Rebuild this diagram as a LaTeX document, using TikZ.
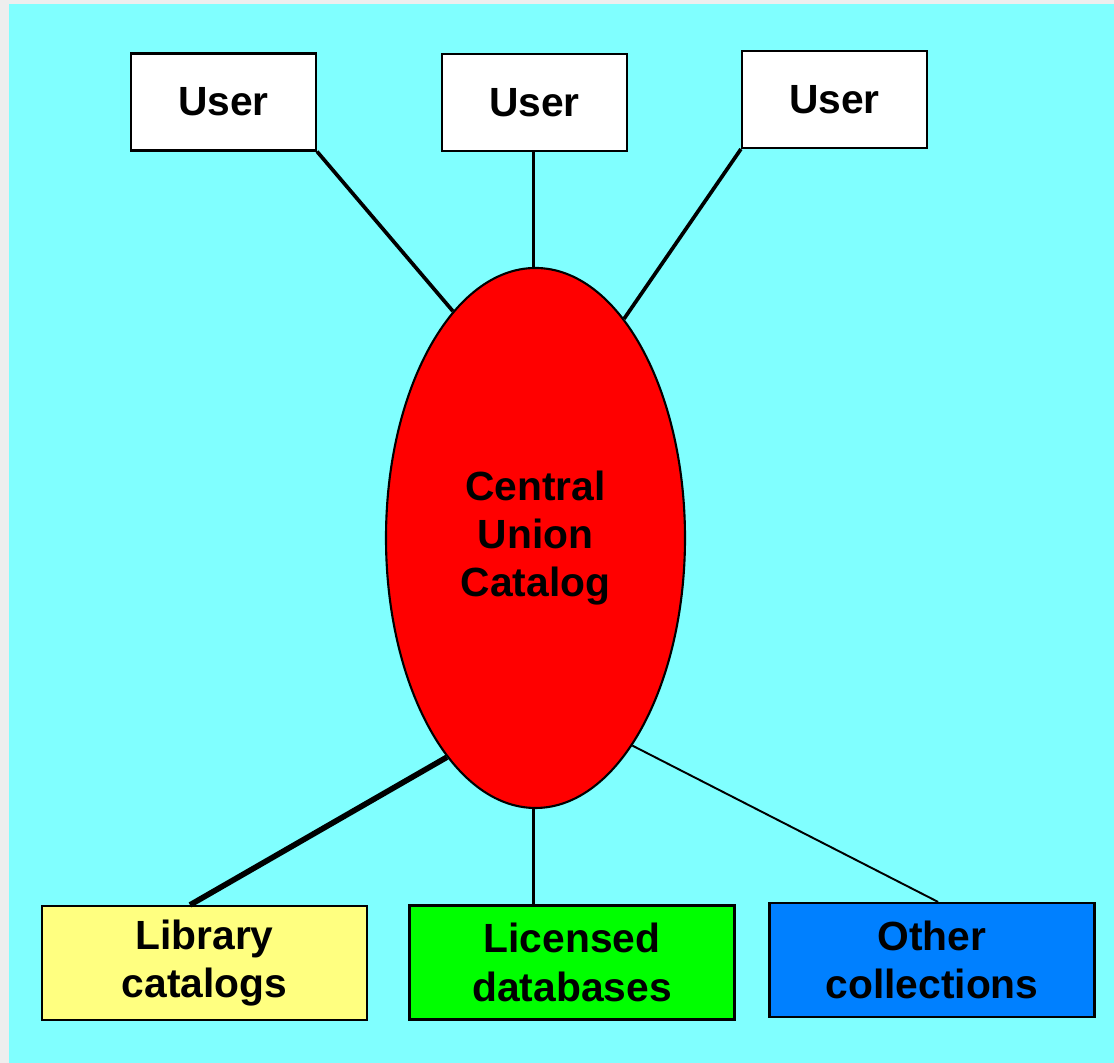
\documentclass[tikz,border=0pt]{standalone}
\usepackage{fontspec}
\setmainfont{Liberation Sans}
\usetikzlibrary{shapes.geometric}
\definecolor{bgcyan}{HTML}{80FFFF}
\definecolor{boxyellow}{HTML}{FFFF80}
\definecolor{boxgreen}{HTML}{00FF00}
\definecolor{boxblue}{HTML}{0080FF}
\definecolor{margingray}{HTML}{EEEEEE}

\begin{document}
\begin{tikzpicture}[
    userbox/.style={draw,line width=0.6pt,fill=white,minimum width=1.85cm,minimum height=0.97cm,inner sep=0pt},
    srcbox/.style={draw,line width=0.6pt,minimum width=3.25cm,minimum height=1.14cm,inner sep=0pt,align=center},
    link/.style={line width=1.05pt},
    font=\fontsize{11.6}{13.7}\selectfont\bfseries]
          \useasboundingbox (0,0) rectangle (11.14,10.63);
          \fill[margingray] (0,0) rectangle (11.14,10.63);
          \fill[bgcyan] (0.09,0) rectangle (11.14,10.59);
          \node[userbox] (u1) at (2.235,9.61) {User};
          \node[userbox] (u2) at (5.345,9.605) {User};
          \node[userbox] (u3) at (8.345,9.635) {User};
          \node[ellipse,draw,line width=0.6pt,fill=red,minimum width=2.99cm,minimum height=5.4cm,inner sep=0pt,align=center] (cat) at (5.355,5.25) {Central\\Union\\Catalog};
          \node[srcbox,fill=boxyellow] (lib) at (2.045,1.0) {Library\\catalogs};
          \node[srcbox,fill=boxgreen] (lic) at (5.72,1.005) {Licensed\\databases};
          \node[srcbox,fill=boxblue] (oth) at (9.32,1.03) {Other\\collections};
          \coordinate (top) at ([xshift=-0.02cm]cat.north);
          \coordinate (bot) at ([xshift=-0.02cm]cat.south);
          \draw[link] (u1.south east) -- (cat.110);
          \draw[link] (top |- u2.south) -- (top);
          \draw[link] (u3.south west) -- (cat.68.5);
          \draw[line width=1.6pt] (lib.104) -- (cat.248.4);
          \draw[link] (bot |- lic.north) -- (bot);
          \draw[line width=0.55pt] (oth.84) -- (cat.295.5);
        \end{tikzpicture}
\end{document}
